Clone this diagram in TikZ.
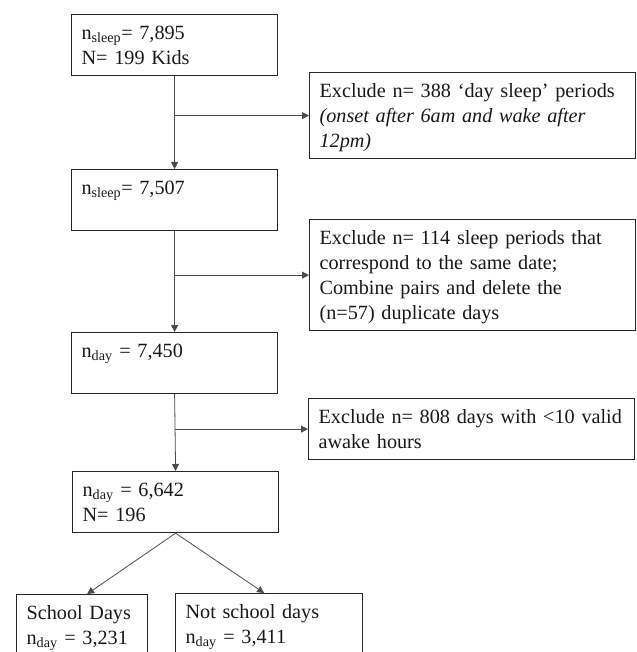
\documentclass[tikz,border=0pt]{standalone}
\usepackage{fontspec}
\setmainfont{Liberation Serif}
\usetikzlibrary{arrows.meta,calc}
\tikzstyle{stepbox}=[draw=black!85,line width=1.2pt,anchor=north west,align=left,inner xsep=10pt,inner ysep=7pt,text height=18pt]
\tikzstyle{flow}=[draw=black!70,line width=0.8pt,-{Triangle[length=7pt,width=7pt]}]
\tikzset{lines/.style={text depth={25pt*#1-21pt}}} % #1 = number of text lines in the box
\newcommand{\exclude}[2]{
\draw[flow] (#1.south |- #2.west) -- (#2.west);
}
\begin{document}
\begin{tikzpicture}[x=1pt,y=-1pt,font=\fontsize{20.2}{25}\selectfont,text=black!90]
	\useasboundingbox (0,0) rectangle (636,652);
	% main column
	\node[stepbox,lines=2,text width=186pt] (sleepall) at (71,14) {n\textsubscript{sleep}= 7,895\\N= 199 Kids};
	\node[stepbox,lines=2,text width=186pt] (sleepnight) at (71,169) {n\textsubscript{sleep}= 7,507};
	\node[stepbox,lines=2,text width=186pt] (dayall) at (71,332) {n\textsubscript{day} = 7,450};
	\node[stepbox,lines=2,text width=186pt] (dayvalid) at (72,471) {n\textsubscript{day} = 6,642\\N= 196};
	% exclusions
	\node[stepbox,lines=3,text width=306pt] (excday) at (309,72) {Exclude n= 388 `day sleep' periods\\\textit{(onset after 6am and wake after}\\\textit{12pm)}};
	\node[stepbox,lines=4,text width=306pt] (excdup) at (309,219) {Exclude n= 114 sleep periods that\\correspond to the same date;\\Combine pairs and delete the\\(n=57) duplicate days};
	\node[stepbox,lines=2,text width=306pt] (excwear) at (308,398) {Exclude n= 808 days with <10 valid\\awake hours};
	% split
	\node[stepbox,lines=2,text width=111pt] (school) at (16,594) {School Days\\n\textsubscript{day} = 3,231};
	\node[stepbox,lines=2,text width=167pt] (noschool) at (175,593) {Not school days\\n\textsubscript{day} = 3,411};

	\draw[flow] (sleepall.south) -- (sleepnight.north);
	\draw[flow] (sleepnight.south) -- (dayall.north);
	\draw[flow] (dayall.south) -- (dayvalid.north);
	\exclude{sleepall}{excday}
	\exclude{sleepnight}{excdup}
	\exclude{dayall}{excwear}
	\draw[flow] (dayvalid.south) -- ([xshift=5pt]school.north);
	\draw[flow] (dayvalid.south) -- ([xshift=-5pt]noschool.north);
\end{tikzpicture}
\end{document}
